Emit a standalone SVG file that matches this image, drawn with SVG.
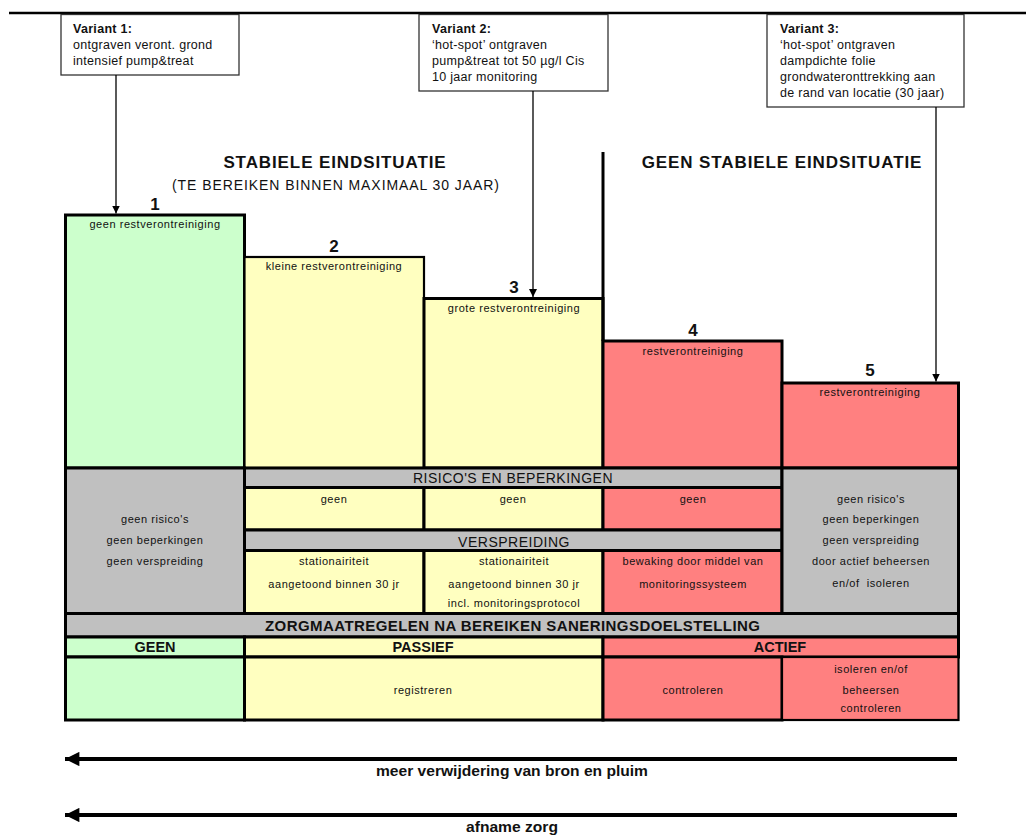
<svg xmlns="http://www.w3.org/2000/svg" width="1026" height="836" viewBox="0 0 1026 836">
  <style>
    text { font-family: "Liberation Sans", Arial, sans-serif; fill: #111; }
    .var { font-size: 12.5px; letter-spacing: 0.3px; }
    .varb { font-size: 12.5px; font-weight: bold; letter-spacing: 0.3px; }
    .title { font-size: 17px; font-weight: bold; text-anchor: middle; letter-spacing: 0.9px; }
    .sub { font-size: 14px; text-anchor: middle; }
    .num { font-size: 17px; font-weight: bold; text-anchor: middle; }
    .small { font-size: 11px; text-anchor: middle; letter-spacing: 0.55px; }
    .bar { font-size: 14px; text-anchor: middle; letter-spacing: 0.5px; }
    .barb { font-size: 15px; font-weight: bold; text-anchor: middle; }
    .lbl { font-size: 14.5px; font-weight: bold; text-anchor: middle; }
    .axis { font-size: 14px; font-weight: bold; text-anchor: middle; }
    .vbox { fill: #fff; stroke: #333; stroke-width: 1.3; }
    .cell { stroke: #000; stroke-width: 3; }
    .green { fill: #CCFFCC; }
    .yellow { fill: #FFFFC0; }
    .red { fill: #FF8080; }
    .gray { fill: #C0C0C0; }
    .conn { stroke: #000; stroke-width: 1.3; fill: none; }
    .big { stroke: #000; stroke-width: 4; fill: none; }
  </style>
  <defs>
    <marker id="tip" viewBox="0 0 10 10" refX="10" refY="5" markerWidth="8" markerHeight="9" markerUnits="userSpaceOnUse" orient="auto">
      <path d="M0,0 L10,5 L0,10 Z" fill="#000"/>
    </marker>
    <marker id="bigtip" viewBox="0 0 10 10" refX="10" refY="5" markerWidth="4" markerHeight="3.6" orient="auto">
      <path d="M0,0 L10,5 L0,10 Z" fill="#000"/>
    </marker>
  </defs>

  <rect width="1026" height="836" fill="#fff"/>

  <!-- top rule -->
  <line x1="9" y1="13" x2="1026" y2="13" stroke="#000" stroke-width="2.5"/>

  <!-- variant boxes -->
  <g id="variant1">
    <rect class="vbox" x="61" y="14.5" width="178" height="60.5"/>
    <text class="varb" x="73" y="33">Variant 1:</text>
    <text class="var" x="73" y="49">ontgraven veront. grond</text>
    <text class="var" x="73" y="65">intensief pump&amp;treat</text>
  </g>
  <g id="variant2">
    <rect class="vbox" x="419" y="14.5" width="189" height="76.5"/>
    <text class="varb" x="432" y="33">Variant 2:</text>
    <text class="var" x="432" y="49">‘hot-spot’ ontgraven</text>
    <text class="var" x="432" y="65">pump&amp;treat tot 50 µg/l Cis</text>
    <text class="var" x="432" y="81">10 jaar monitoring</text>
  </g>
  <g id="variant3">
    <rect class="vbox" x="767" y="14.5" width="197" height="92.5"/>
    <text class="varb" x="780" y="33">Variant 3:</text>
    <text class="var" x="780" y="49">‘hot-spot’ ontgraven</text>
    <text class="var" x="780" y="65">dampdichte folie</text>
    <text class="var" x="780" y="81">grondwateronttrekking aan</text>
    <text class="var" x="780" y="97">de rand van locatie (30 jaar)</text>
  </g>

  <!-- headings -->
  <g id="headings">
    <text class="title" x="335" y="168">STABIELE EINDSITUATIE</text>
    <text class="sub" x="335.5" y="190" textLength="327" lengthAdjust="spacing">(TE BEREIKEN BINNEN MAXIMAAL 30 JAAR)</text>
    <text class="title" x="782" y="168">GEEN STABIELE EINDSITUATIE</text>
  </g>

  <!-- step boxes -->
  <g id="step1">
    <rect class="cell green" x="65.5" y="215" width="179" height="253"/>
    <text class="num" x="155" y="210">1</text>
    <text class="small" x="155" y="228">geen restverontreiniging</text>
  </g>
  <g id="step2">
    <rect class="cell yellow" x="244.5" y="257" width="179.5" height="211" style="stroke-width:2.2"/>
    <text class="num" x="334" y="252">2</text>
    <text class="small" x="334" y="270">kleine restverontreiniging</text>
  </g>
  <g id="step3">
    <rect class="cell yellow" x="424" y="298.5" width="179" height="169.5"/>
    <text class="num" x="514" y="293">3</text>
    <text class="small" x="514" y="312">grote restverontreiniging</text>
  </g>
  <g id="step4">
    <rect class="cell red" x="603" y="341" width="179" height="127"/>
    <text class="num" x="693" y="336">4</text>
    <text class="small" x="693" y="355">restverontreiniging</text>
  </g>
  <g id="step5">
    <rect class="cell red" x="782" y="383" width="176.5" height="85"/>
    <text class="num" x="870" y="376">5</text>
    <text class="small" x="870" y="396">restverontreiniging</text>
  </g>

  <!-- divider between stable and non-stable -->
  <line x1="603" y1="152" x2="603" y2="341" stroke="#000" stroke-width="3"/>

  <!-- risks and spreading -->
  <g id="col1-risks">
    <rect class="cell gray" x="65.5" y="468" width="179" height="145.5"/>
    <text class="small" x="155" y="523">geen risico's</text>
    <text class="small" x="155" y="544">geen beperkingen</text>
    <text class="small" x="155" y="565">geen verspreiding</text>
  </g>
  <g id="risks-bar">
    <rect class="cell gray" x="244.5" y="468" width="537.5" height="19.5"/>
    <text class="bar" x="513" y="483">RISICO'S EN BEPERKINGEN</text>
  </g>
  <g id="risks-2">
    <rect class="cell yellow" x="244.5" y="487.5" width="179.5" height="42.5"/>
    <text class="small" x="334" y="503">geen</text>
  </g>
  <g id="risks-3">
    <rect class="cell yellow" x="424" y="487.5" width="179" height="42.5"/>
    <text class="small" x="513" y="503">geen</text>
  </g>
  <g id="risks-4">
    <rect class="cell red" x="603" y="487.5" width="179" height="42.5"/>
    <text class="small" x="693" y="503">geen</text>
  </g>
  <g id="spread-bar">
    <rect class="cell gray" x="244.5" y="530" width="537.5" height="20.5"/>
    <text class="bar" x="514" y="547">VERSPREIDING</text>
  </g>
  <g id="spread-2">
    <rect class="cell yellow" x="244.5" y="550.5" width="179.5" height="63"/>
    <text class="small" x="334" y="565">stationairiteit</text>
    <text class="small" x="334" y="588">aangetoond binnen 30 jr</text>
  </g>
  <g id="spread-3">
    <rect class="cell yellow" x="424" y="550.5" width="179" height="63"/>
    <text class="small" x="514" y="565">stationairiteit</text>
    <text class="small" x="514" y="588">aangetoond binnen 30 jr</text>
    <text class="small" x="514" y="607">incl. monitoringsprotocol</text>
  </g>
  <g id="spread-4">
    <rect class="cell red" x="603" y="550.5" width="179" height="63"/>
    <text class="small" x="693" y="565">bewaking door middel van</text>
    <text class="small" x="693" y="588">monitoringssysteem</text>
  </g>
  <g id="col5-risks">
    <rect class="cell gray" x="782" y="468" width="176.5" height="145.5"/>
    <text class="small" x="871" y="503">geen risico's</text>
    <text class="small" x="871" y="523">geen beperkingen</text>
    <text class="small" x="871" y="544">geen verspreiding</text>
    <text class="small" x="871" y="565">door actief beheersen</text>
    <text class="small" x="871" y="587" xml:space="preserve">en/of  isoleren</text>
  </g>

  <!-- aftercare measures -->
  <g id="care-bar">
    <rect class="cell gray" x="65.5" y="613.5" width="893" height="23.5"/>
    <text class="barb" x="512.5" y="631" textLength="495" lengthAdjust="spacing">ZORGMAATREGELEN NA BEREIKEN SANERINGSDOELSTELLING</text>
  </g>
  <g id="care-none">
    <rect class="cell green" x="65.5" y="637" width="179" height="20"/>
    <text class="lbl" x="155" y="652">GEEN</text>
    <rect class="cell green" x="65.5" y="657" width="179" height="63"/>
  </g>
  <g id="care-passive">
    <rect class="cell yellow" x="244.5" y="637" width="358.5" height="20"/>
    <text class="lbl" x="423" y="652">PASSIEF</text>
    <rect class="cell yellow" x="244.5" y="657" width="358.5" height="63"/>
    <text class="small" x="423" y="694">registreren</text>
  </g>
  <g id="care-active">
    <rect class="cell red" x="603" y="637" width="355.5" height="20"/>
    <text class="lbl" x="780" y="652">ACTIEF</text>
    <rect class="cell red" x="603" y="657" width="179" height="63"/>
    <text class="small" x="693" y="694">controleren</text>
    <rect class="cell red" x="782" y="657" width="176.5" height="63" style="stroke-width:2.2"/>
    <text class="small" x="871" y="673">isoleren en/of</text>
    <text class="small" x="871" y="694">beheersen</text>
    <text class="small" x="871" y="712">controleren</text>
  </g>

  <!-- connectors -->
  <g id="connectors">
    <line class="conn" x1="116" y1="75" x2="116" y2="213.5" marker-end="url(#tip)"/>
    <line class="conn" x1="533" y1="91" x2="533" y2="297" marker-end="url(#tip)"/>
    <line class="conn" x1="936" y1="107" x2="936" y2="381.5" marker-end="url(#tip)"/>
    <line class="big" x1="957" y1="759" x2="65" y2="759" marker-end="url(#bigtip)"/>
    <line class="big" x1="957" y1="815" x2="65" y2="815" marker-end="url(#bigtip)"/>
  </g>

  <g id="axis-labels">
    <text class="axis" x="512" y="776" textLength="272" lengthAdjust="spacingAndGlyphs">meer verwijdering van bron en pluim</text>
    <text class="axis" x="512" y="832" textLength="92" lengthAdjust="spacingAndGlyphs">afname zorg</text>
  </g>
</svg>
